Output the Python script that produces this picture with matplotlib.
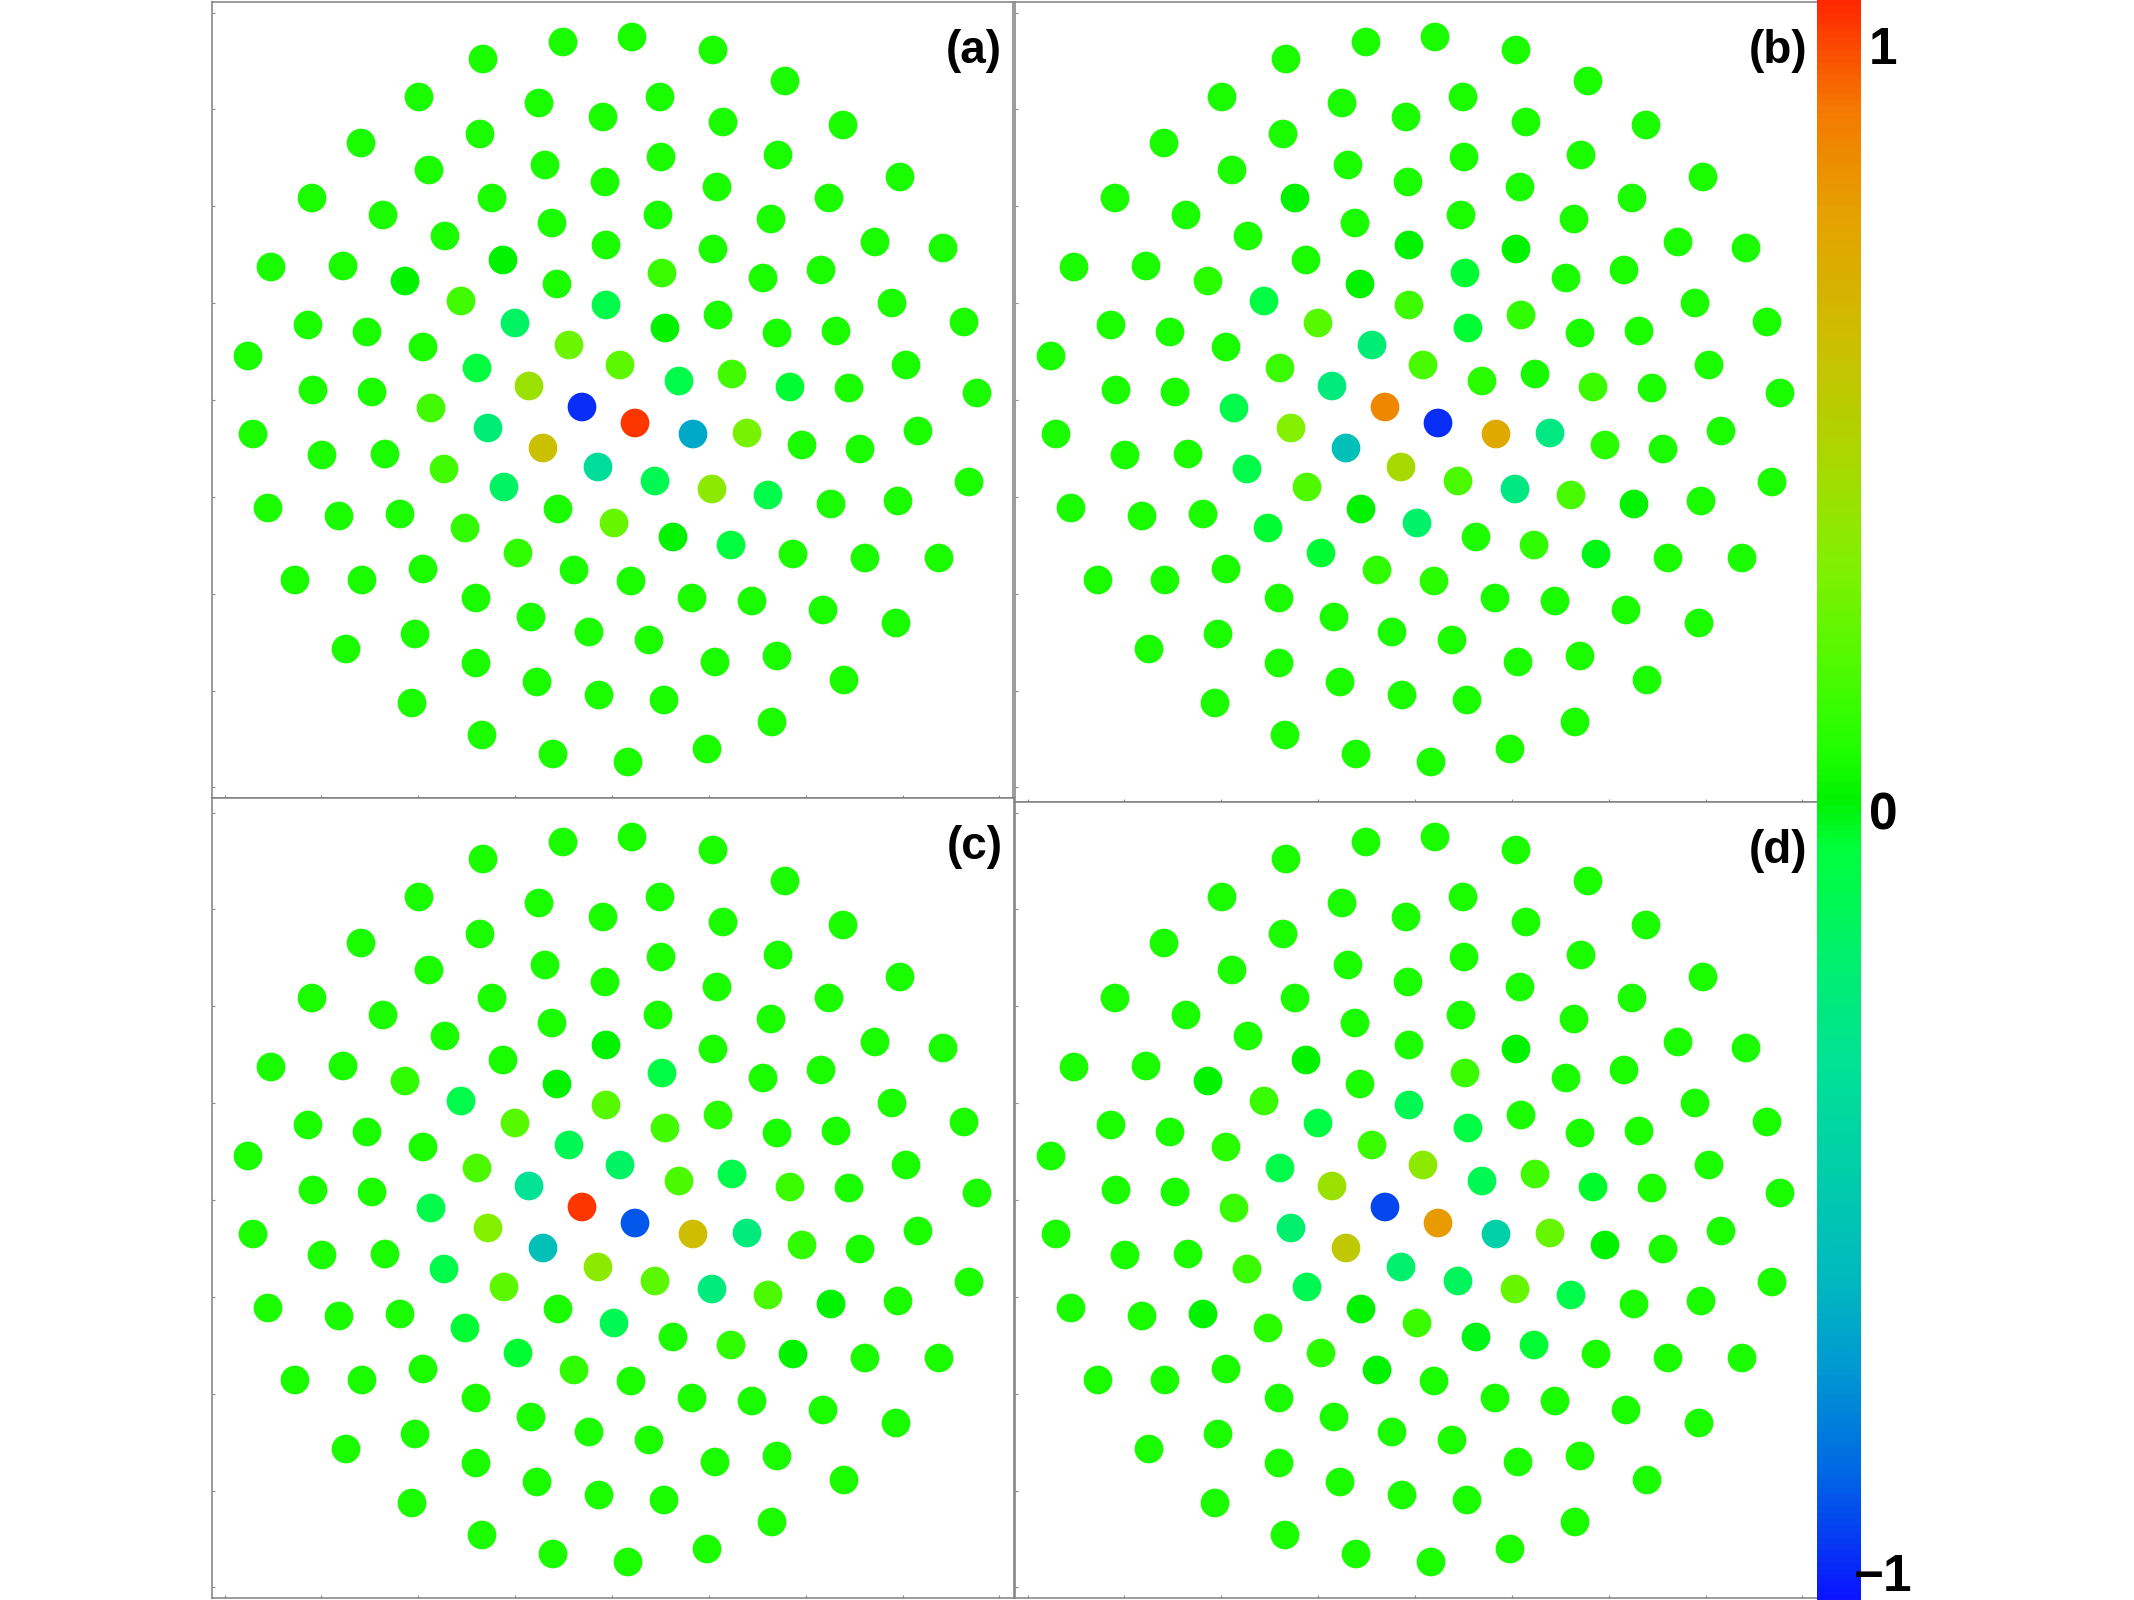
import matplotlib
matplotlib.use("Agg")
import matplotlib.pyplot as plt
from matplotlib.colors import LinearSegmentedColormap, Normalize
from matplotlib.cm import ScalarMappable
from matplotlib.ticker import MultipleLocator

plt.rcParams['font.family'] = ['Liberation Sans', 'DejaVu Sans']

# site positions (same in all four panels), offset from the pattern centre
x = [-49, -129, -73, -9, -193, -132, -251, -67, -7, -183,
     -300, -120, -229, -60, -167, -6, -341, -269, -109, -207,
     -55, -151, -97, -6, -364, -304, -245, -189, -43, -135,
     -83, -30, -299, -240, -181, 8, 20, 101, 173, 48,
     111, 231, 49, 166, 288, 105, 217, 46, 159, 263,
     331, 101, 50, 151, 209, 280, 352, 106, 53, 165,
     224, 294, 67, 120, 178, 237, 365, -359, -124, -69,
     -14, -290, -227, -168, -108, -344, -273, -212, -147, -54,
     2, -94, -38, -317, -250, -189, -136, -81, -23, -197,
     -266, -136, -75, -13, -200, -130, -59, 23, 81, 135,
     190, 248, 306, 43, 100, 156, 219, 286, 357, 61,
     119, 181, 253, 327, 19, 80, 140, 211, 284, 37,
     103, 165, 232, 52, 160, 95, 16]
y = [358, 341, 297, 283, 303, 266, 257, 235, 218, 230,
     202, 202, 185, 177, 164, 155, 133, 134, 140, 119,
     116, 99, 77, 95, 44, 75, 68, 53, 55, 32,
     14, -7, 10, 8, -8, 35, 363, 350, 319, 303,
     278, 275, 243, 245, 223, 213, 202, 185, 181, 158,
     152, 151, 127, 122, 130, 97, 78, 85, 72, 67,
     69, 35, 19, 26, 13, 12, 7, -34, -28, -48,
     -67, -55, -54, -69, -87, -108, -116, -114, -128, -109,
     -123, -153, -170, -180, -180, -169, -198, -217, -232, -234,
     -249, -263, -282, -295, -303, -335, -354, -23, -34, -33,
     -45, -49, -31, -81, -89, -95, -104, -101, -82, -137,
     -145, -154, -158, -158, -181, -198, -201, -210, -223, -240,
     -262, -256, -280, -300, -322, -349, -362]

# value of all the plain green sites
background = 0.05

# other sites, keyed by site number (counting from 1 in the x/y order)
vals_a = {98: 0.97, 32: -0.95, 99: -0.65, 70: 0.57, 71: -0.36, 100: 0.27,
          105: 0.33, 31: 0.38, 29: 0.24, 36: 0.2, 81: 0.22, 22: 0.14,
          35: 0.14, 74: 0.14, 64: 0.14, 53: 0.12, 79: 0.1, 82: 0.1,
          23: -0.17, 75: -0.17, 69: -0.22, 24: -0.1, 30: -0.07, 63: -0.1,
          65: -0.05, 104: -0.12, 106: -0.1, 111: -0.07, 59: 0.0, 110: 0.0,
          20: 0.0, 19: 0.0}
vals_b = {32: 0.82, 98: -0.95, 99: 0.68, 70: -0.55, 71: 0.42, 69: 0.3,
          31: -0.25, 29: -0.22, 36: 0.15, 100: -0.27, 105: -0.27, 104: 0.16,
          81: -0.18, 106: 0.15, 75: 0.17, 74: -0.1, 35: -0.1, 30: 0.12,
          23: 0.18, 22: -0.08, 24: 0.13, 59: -0.05, 58: 0.1, 63: 0.08,
          65: 0.12, 64: 0.04, 101: 0.08, 80: 0.0, 110: 0.06, 111: 0.1,
          83: 0.1, 115: 0.08, 82: -0.05, 79: -0.05, 107: 0.0, 112: -0.02,
          53: -0.05, 52: 0.0, 16: 0.0, 12: 0.0, 21: 0.0, 20: 0.08}
vals_c = {32: 0.97, 98: -0.87, 99: 0.58, 70: -0.55, 71: 0.33, 69: 0.3,
          31: -0.33, 29: -0.12, 36: -0.17, 100: -0.25, 105: -0.25, 104: 0.2,
          81: -0.12, 106: 0.16, 75: 0.2, 74: -0.1, 35: -0.1, 30: 0.16,
          23: 0.18, 22: -0.1, 24: 0.18, 59: 0.14, 58: 0.08, 63: 0.16,
          64: -0.1, 65: 0.12, 101: 0.1, 111: 0.1, 83: 0.1, 82: -0.05,
          79: -0.05, 53: -0.08, 20: 0.1, 112: 0.0, 107: 0.0, 16: 0.0, 21: 0.0}
vals_d = {32: -0.9, 98: 0.75, 99: -0.45, 70: 0.52, 71: -0.2, 69: -0.2,
          31: 0.38, 29: 0.12, 36: 0.33, 63: -0.12, 100: 0.22, 105: 0.22,
          104: -0.15, 81: 0.12, 106: -0.1, 75: -0.12, 74: 0.12, 35: 0.12,
          30: -0.1, 23: -0.08, 22: 0.12, 24: -0.12, 59: -0.08, 64: 0.14,
          65: -0.04, 101: 0.0, 80: 0.0, 110: -0.02, 111: -0.05, 83: 0.0,
          82: 0.08, 79: 0.08, 53: 0.12, 52: 0.0, 19: 0.0, 20: 0.0,
          28: 0.08, 78: 0.0}

panel_labels = ['(a)', '(b)', '(c)', '(d)']
cbar_ticks = [1, 0, -1]
cbar_ticklabels = ['1', '0', '\u22121']

# colour scale
cmap_nodes = [(-1.0, '#0a14ff'), (-0.85, '#0064e6'), (-0.72, '#0096d2'),
              (-0.6, '#00b9be'), (-0.47, '#00cdaa'), (-0.34, '#00e196'),
              (-0.2, '#00f06e'), (-0.06, '#00ff3c'), (0.0, '#00f200'),
              (0.06, '#1eff00'), (0.17, '#50fa00'), (0.3, '#82f000'),
              (0.43, '#aad700'), (0.58, '#cdbe00'), (0.74, '#e6a000'),
              (0.87, '#f57800'), (1.0, '#ff2800')]
cmap = LinearSegmentedColormap.from_list(
    'spin', [((v + 1) / 2, c) for v, c in cmap_nodes])
norm = Normalize(-1, 1)

W, H = 2134, 1600
fig = plt.figure(figsize=(W / 100, H / 100), dpi=100)

# panel boxes in pixels (left, top, right, bottom) and pattern centres
boxes = [(212, 2, 1013, 798), (1015, 2, 1818, 802),
         (212, 798, 1014, 1598), (1015, 802, 1818, 1598)]
centres = [(612, 400), (1415, 400), (612, 1200), (1415, 1200)]

for vals, lab, (x0, y0, x1, y1), (cx, cy) in zip(
        [vals_a, vals_b, vals_c, vals_d], panel_labels, boxes, centres):
    ax = fig.add_axes([x0 / W, 1 - y1 / H, (x1 - x0) / W, (y1 - y0) / H])
    c = [vals.get(i + 1, background) for i in range(len(x))]
    ax.scatter(x, y, c=c, cmap=cmap, norm=norm, s=427, linewidths=0)
    ax.set_xlim(x0 - cx, x1 - cx)
    ax.set_ylim(cy - y1, cy - y0)
    ax.xaxis.set_major_locator(MultipleLocator(96.85))
    ax.yaxis.set_major_locator(MultipleLocator(96.85))
    ax.tick_params(direction='in', length=2, width=0.8, color='0.55',
                   labelbottom=False, labelleft=False)
    for sp in ax.spines.values():
        sp.set_color('0.5')
        sp.set_linewidth(1.1)
    ax.annotate(lab, xy=(1, 1), xycoords='axes fraction', xytext=(-11, -61),
                textcoords='offset pixels', ha='right', va='baseline',
                fontsize=33, fontweight='bold')

cax = fig.add_axes([1817 / W, 0, 44 / W, 1])
cb = fig.colorbar(ScalarMappable(norm=norm, cmap=cmap), cax=cax)
cb.outline.set_visible(False)
cb.set_ticks([])
for v, lab, dy in zip(cbar_ticks, cbar_ticklabels, [-64, -30, 9]):
    cax.annotate(lab, xy=(1.5, v), xycoords=cax.get_yaxis_transform(),
                 xytext=(0, dy), textcoords='offset pixels', ha='center',
                 va='baseline', fontsize=37, fontweight='bold')

fig.savefig('out.png', dpi=100)
